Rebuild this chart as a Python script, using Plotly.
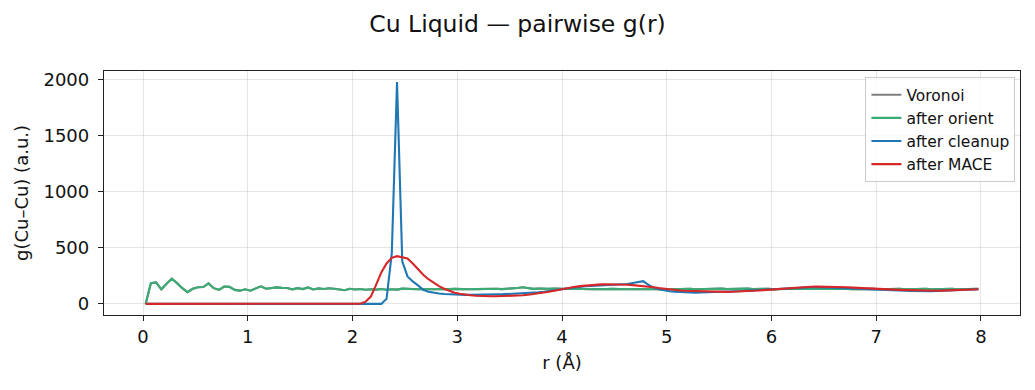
import numpy as np
import plotly.graph_objects as go

# bin centres (r in Å)
r = [round(0.025 + 0.05 * i, 3) for i in range(160)]

g_orient = [
    0, 185, 192, 130, 180, 225, 185, 140, 105, 135,
    148, 150, 183, 140, 125, 155, 152, 125, 118, 130,
    118, 140, 156, 135, 140, 147, 143, 142, 130, 140,
    132, 147, 129, 138, 133, 140, 135, 128, 122, 135,
    128, 133, 126, 130, 127, 132, 126, 131, 127, 136,
    132, 134, 130, 132, 129, 131, 133, 130, 132, 134,
    131, 133, 130, 132, 134, 131, 133, 135, 132, 134,
    136, 142, 148, 138, 134, 136, 133, 135, 137, 134,
    136, 133, 135, 132, 134, 131, 133, 130, 132, 134,
    131, 133, 130, 132, 129, 131, 133, 130, 132, 129,
    131, 133, 130, 132, 134, 131, 133, 135, 132, 134,
    136, 133, 135, 137, 134, 136, 133, 135, 132, 134,
    131, 133, 135, 132, 134, 136, 133, 135, 137, 134,
    136, 133, 135, 132, 134, 131, 133, 135, 132, 134,
    131, 133, 130, 132, 134, 131, 133, 130, 132, 134,
    131, 133, 135, 132, 134, 131, 133, 135, 132, 134,
]

g_voronoi = list(g_orient)

g_cleanup = [0] * 46 + [
    45, 450, 1975, 380, 245, 200, 165, 125, 108, 98,
    93, 88, 85, 80, 82, 80, 82, 84, 83, 85,
    84, 86, 85, 87, 88, 90, 93, 96, 100, 104,
    108, 113, 120, 127, 135, 142, 148, 153, 157, 160,
    162, 164, 165, 166, 168, 171, 177, 186, 195, 203,
    170, 145, 130, 120, 113, 108, 105, 102, 100, 100,
    102, 103, 104, 105, 107, 108, 110, 113, 115, 118,
    121, 124, 127, 130, 133, 136, 139, 142, 144, 146,
    147, 148, 148, 147, 146, 145, 143, 141, 139, 137,
    135, 133, 131, 130, 128, 126, 124, 122, 120, 118,
    116, 114, 113, 113, 114, 116, 118, 120, 122, 124,
    126, 128, 129, 130,
]

g_mace = [0] * 41 + [
    2, 20, 65, 170, 280, 360, 410, 425, 415, 405,
    360, 310, 260, 220, 185, 158, 135, 115, 100, 90,
    82, 77, 73, 70, 68, 68, 68, 69, 70, 72,
    74, 77, 82, 87, 93, 100, 108, 117, 127, 136,
    145, 152, 158, 163, 167, 171, 174, 175, 175, 174,
    172, 170, 167, 164, 160, 155, 149, 142, 135, 129,
    124, 120, 117, 115, 113, 111, 109, 108, 107, 107,
    107, 108, 109, 111, 113, 116, 119, 123, 127, 131,
    135, 139, 143, 146, 149, 151, 153, 154, 154, 154,
    153, 152, 150, 148, 145, 142, 139, 137, 135, 133,
    131, 129, 127, 125, 123, 121, 119, 118, 117, 117,
    117, 118, 119, 121, 123, 125, 127, 129, 131,
]

series = [
    ("Voronoi", g_voronoi, "#7f7f7f"),
    ("after orient", g_orient, "#3BAA73"),
    ("after cleanup", g_cleanup, "#1f77b4"),
    ("after MACE", g_mace, "#d62728"),
]

fig = go.Figure()
for name, vals, col in series:
    fig.add_trace(go.Scatter(x=r, y=vals, mode="lines", name=name,
                             line=dict(color=col, width=2.1)))

allv = [v for _, vals, _ in series for v in vals]
ymin, ymax = min(allv), max(allv)
ypad = 0.05 * (ymax - ymin)
xpad = 0.05 * (r[-1] - r[0])

axis_common = dict(
    showline=True, linecolor="#222", linewidth=1.3, mirror=True,
    ticks="outside", ticklen=5, tickcolor="#222", tickwidth=1.3,
    showgrid=True, gridcolor="rgba(0,0,0,0.1)", gridwidth=1,
    zeroline=False, tickfont=dict(size=18, color="#111"),
    title_font=dict(size=18, color="#111"),
)

fig.update_layout(
    width=1035, height=390,
    margin=dict(l=104, r=15, t=71, b=75),
    paper_bgcolor="white", plot_bgcolor="white",
    font=dict(family="DejaVu Sans", color="#111"),
    title=dict(text="Cu Liquid — pairwise g(r)", x=0.5, xanchor="center",
               y=0.938, yanchor="middle", font=dict(size=23.5)),
    xaxis=dict(range=[r[0] - xpad, r[-1] + xpad], tickvals=list(range(9)),
               title=dict(text="r (Å)", standoff=10), **axis_common),
    yaxis=dict(range=[ymin - ypad, ymax + ypad], tickvals=[0, 500, 1000, 1500, 2000],
               ticklabelstandoff=5,
               title=dict(text="g(Cu–Cu) (a.u.)", standoff=10), **axis_common),
    legend=dict(x=0.995, xanchor="right", y=0.975, yanchor="top",
                bgcolor="rgba(255,255,255,0.85)", bordercolor="#ccc", borderwidth=1,
                font=dict(size=15.5, color="#111"), itemwidth=30),
    showlegend=True,
)

fig.write_html("out.html")
